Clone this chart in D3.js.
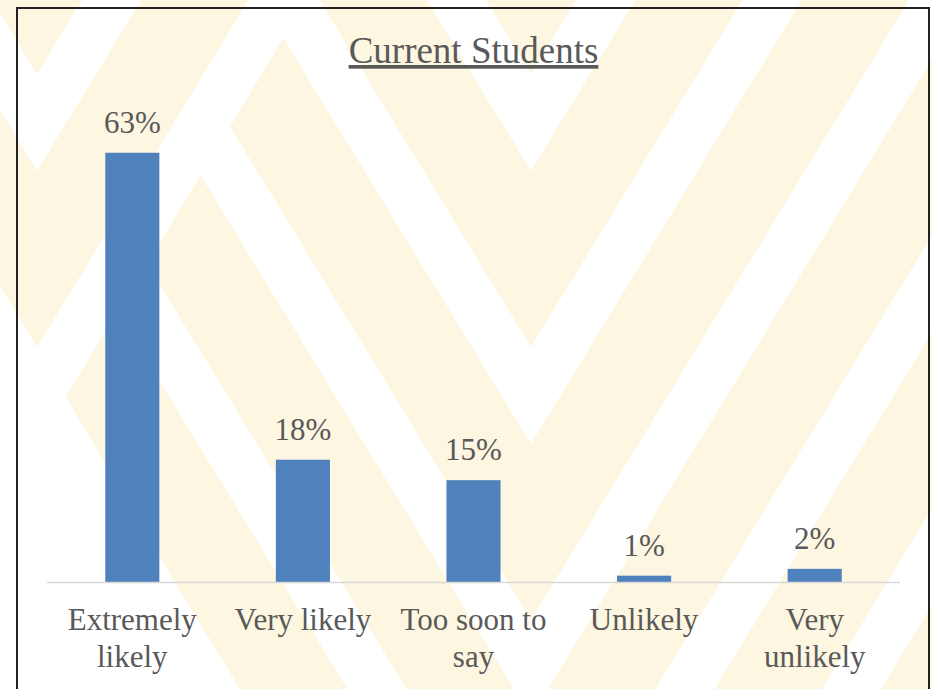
<!DOCTYPE html>
<html>
<head>
<meta charset="utf-8">
<script src="https://cdn.jsdelivr.net/npm/d3@7"></script>
<style>
  html, body { margin: 0; padding: 0; background: #fff; }
  svg { display: block; }
  text { font-family: "Liberation Serif", "Times New Roman", serif; fill: #595959; }
  .title { font-size: 37px; text-decoration: underline; }
  .value { font-size: 31px; }
  .cat { font-size: 31px; }
</style>
</head>
<body>
<svg width="932" height="689"></svg>
<script>
var categories = ["Extremely likely", "Very likely", "Too soon to say", "Unlikely", "Very unlikely"];
var values = [0.63, 0.18, 0.15, 0.01, 0.02];
var tickLines = [["Extremely", "likely"], ["Very likely"], ["Too soon to", "say"], ["Unlikely"], ["Very", "unlikely"]];
var title = "Current Students";

var svg = d3.select("svg");
var W = +svg.attr("width"), H = +svg.attr("height");
var pct = d3.format(".0%");

// ---- background: pale gold with white chevron stripes ----
var gold = "#fdf6e0";
var slope = 0.61;
svg.append("rect").attr("width", W).attr("height", H).attr("fill", gold);

function chevrons(tipX) {
  var xs = [-40, tipX, W + 40];
  return d3.range(-2, 8).map(function(k) {
    var t = 74 + 273 * k, b = t + 97;
    var up = xs.map(function(x) { return [x, t - Math.abs(x - tipX) / slope]; });
    var lo = xs.slice().reverse().map(function(x) { return [x, b - Math.abs(x - tipX) / slope]; });
    return up.concat(lo);
  });
}

var defs = svg.append("defs");
var leftZone = [[-10, -10], [284, -10], [284, 37], [200, 177], [37, 444], [-10, 367]];
defs.append("clipPath").attr("id", "leftZone")
  .append("polygon").attr("points", leftZone.join(" "));

var bg = svg.append("g");
bg.selectAll(".rs").data(chevrons(531)).enter().append("polygon")
  .attr("points", function(d) { return d.join(" "); })
  .attr("fill", "#fff");
bg.append("polygon").attr("points", leftZone.join(" ")).attr("fill", gold);
bg.append("g").attr("clip-path", "url(#leftZone)")
  .selectAll("polygon").data(chevrons(37)).enter().append("polygon")
  .attr("points", function(d) { return d.join(" "); })
  .attr("fill", "#fff");
bg.append("polygon")
  .attr("points", [[-10, 270], [37, 347], [243, 700], [-10, 700]].join(" "))
  .attr("fill", "#fff");

// frame
svg.append("rect")
  .attr("x", 17).attr("y", 8)
  .attr("width", 912).attr("height", 720)
  .attr("fill", "none")
  .attr("stroke", "#222")
  .attr("stroke-width", 2);

// ---- chart ----
var plotLeft = 47, plotRight = 900, baseY = 582.5, plotTop = 105;

var x = d3.scaleBand().domain(categories).range([plotLeft, plotRight])
  .paddingInner(0.683).paddingOuter(0.3415);
var y = d3.scaleLinear().domain([0, 0.7]).range([baseY, plotTop]);

svg.append("text")
  .attr("class", "title")
  .attr("x", (plotLeft + plotRight) / 2)
  .attr("y", 63)
  .attr("text-anchor", "middle")
  .text(title);

svg.selectAll(".bar")
  .data(values)
  .enter().append("rect")
  .attr("class", "bar")
  .attr("x", function(d, i) { return x(categories[i]); })
  .attr("y", function(d) { return y(d); })
  .attr("width", x.bandwidth())
  .attr("height", function(d) { return baseY - y(d); })
  .attr("fill", "#4f81bd");

svg.selectAll(".value")
  .data(values)
  .enter().append("text")
  .attr("class", "value")
  .attr("x", function(d, i) { return x(categories[i]) + x.bandwidth() / 2; })
  .attr("y", function(d) { return y(d) - 20; })
  .attr("text-anchor", "middle")
  .text(function(d) { return pct(d); });

// category axis
var axis = svg.append("g")
  .attr("transform", "translate(0," + baseY + ")")
  .call(d3.axisBottom(x).tickSize(0).tickFormat(""));
axis.select(".domain").attr("stroke", "#d9d9d9").attr("stroke-width", 1.5)
  .attr("d", "M" + plotLeft + ",0H" + plotRight);

axis.selectAll(".tick").each(function(d, i) {
  var t = d3.select(this).append("text")
    .attr("class", "cat")
    .attr("text-anchor", "middle")
    .attr("y", 47.5);
  t.selectAll("tspan")
    .data(tickLines[i])
    .enter().append("tspan")
    .attr("x", 0)
    .attr("dy", function(l, j) { return j ? 37 : 0; })
    .text(function(l) { return l; });
});
</script>
</body>
</html>
